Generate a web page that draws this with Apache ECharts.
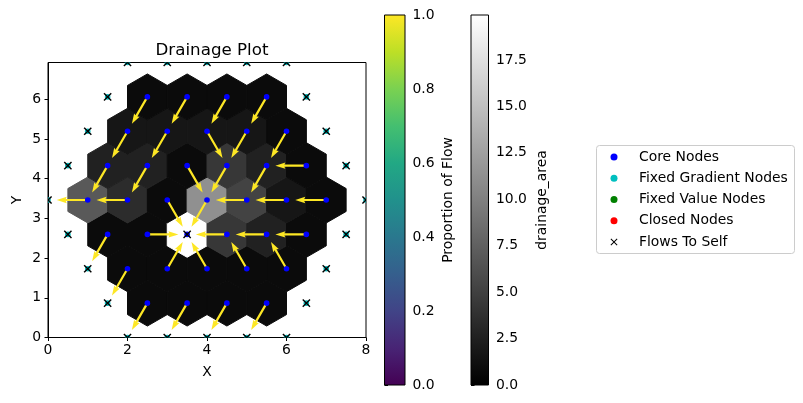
<!DOCTYPE html>
<html>
<head>
<meta charset="utf-8">
<script src="https://cdn.jsdelivr.net/npm/echarts@6/dist/echarts.min.js"></script>
<style>
html,body{margin:0;padding:0;background:#fff;}
#main{width:803px;height:403px;}
</style>
</head>
<body>
<div id="main"></div>
<script>
// ---- data ----
const coreX = [2.5,3.5,4.5,5.5, 2,3,4,5,6, 1.5,2.5,3.5,4.5,5.5,6.5, 1,2,3,4,5,6,7, 1.5,2.5,3.5,4.5,5.5,6.5, 2,3,4,5,6, 2.5,3.5,4.5,5.5];
const coreY = [0.866,0.866,0.866,0.866, 1.732,1.732,1.732,1.732,1.732, 2.598,2.598,2.598,2.598,2.598,2.598, 3.464,3.464,3.464,3.464,3.464,3.464,3.464, 4.330,4.330,4.330,4.330,4.330,4.330, 5.196,5.196,5.196,5.196,5.196, 6.062,6.062,6.062,6.062];
const recvX = [2,3,4,5, 1.5,3.5,3.5,4.5,5.5, 1,3.5,3.5,3.5,4.5,5.5, 0,1,3.5,3.5,4,5,6, 1,2,4,4,5,5.5, 1.5,2.5,4.5,4.5,5.5, 2,3,4,5];
const recvY = [0,0,0,0, 0.866,2.598,2.598,2.598,2.598, 1.732,2.598,2.598,2.598,2.598,2.598, 3.464,3.464,2.598,2.598,3.464,3.464,3.464, 3.464,3.464,3.464,3.464,3.464,4.330, 4.330,4.330,4.330,4.330,4.330, 5.196,5.196,5.196,5.196];
const drainageArea = [0.866,0.866,0.866,0.866, 0.866,0.866,0.866,0.866,0.866, 0.866,0.866,19.92,4.33,2.598,0.866, 6.928,3.464,0.866,11.258,5.196,1.732,0.866, 2.598,2.598,0.866,4.33,2.598,0.866, 1.732,1.732,1.732,1.732,0.866, 0.866,0.866,0.866,0.866];
const flowProportion = coreX.map(() => 1.0);
const boundaryX = [2,3,4,5,6, 1.5,6.5, 1,7, 0.5,7.5, 0,8, 0.5,7.5, 1,7, 1.5,6.5, 2,3,4,5,6];
const boundaryY = [0,0,0,0,0, 0.866,0.866, 1.732,1.732, 2.598,2.598, 3.464,3.464, 4.330,4.330, 5.196,5.196, 6.062,6.062, 6.928,6.928,6.928,6.928,6.928];
const xTicks = [0,2,4,6,8];
const yTicks = [0,1,2,3,4,5,6];
const flowTicks = [0,0.2,0.4,0.6,0.8,1.0];
const areaTicks = [0,2.5,5,7.5,10,12.5,15,17.5];
const areaMax = 19.92;
const legendNames = ['Core Nodes','Fixed Gradient Nodes','Fixed Value Nodes','Closed Nodes','Flows To Self'];

// ---- styles ----
const FONT = 'DejaVu Sans';
const viridis = ['#440154','#482475','#414487','#355f8d','#2a788e','#21918c','#22a884','#44bf70','#7ad151','#bddf26','#fde725'];
const X_PATH = 'path://M1,0L5,4L9,0L10,1L6,5L10,9L9,10L5,6L1,10L0,9L4,5L0,1Z';

const hexData = coreX.map((x,i) => [x, coreY[i], drainageArea[i]]);
const arrowData = coreX.map((x,i) => [x, coreY[i], recvX[i], recvY[i], flowProportion[i]])
  .filter(d => !(d[0] === d[2] && d[1] === d[3]));
const coreData = coreX.map((x,i) => [x, coreY[i]]);
const boundaryData = boundaryX.map((x,i) => [x, boundaryY[i]]);
const selfData = boundaryData.concat(coreX.map((x,i) => [x, coreY[i], recvX[i], recvY[i]])
  .filter(d => d[0] === d[2] && d[1] === d[3]).map(d => [d[0], d[1]]));

const chart = echarts.init(document.getElementById('main'), null, {renderer:'canvas', width:803, height:403});

function hexRender(params, api) {
  const x = api.value(0), y = api.value(1);
  const r = 1/Math.sqrt(3);
  const pts = [];
  for (let k = 0; k < 6; k++) {
    const a = (30 + 60*k) * Math.PI/180;
    pts.push(api.coord([x + r*Math.cos(a), y + r*Math.sin(a)]));
  }
  const c = api.visual('color');
  return {type:'polygon', shape:{points:pts}, style:{fill:c, stroke:c, lineWidth:1}};
}

function arrowRender(params, api) {
  const p0 = api.coord([api.value(0), api.value(1)]);
  const p1 = api.coord([api.value(2), api.value(3)]);
  const f = 0.78;
  const tip = [p0[0] + f*(p1[0]-p0[0]), p0[1] + f*(p1[1]-p0[1])];
  const dx = tip[0]-p0[0], dy = tip[1]-p0[1];
  const L = Math.sqrt(dx*dx+dy*dy);
  const u = [dx/L, dy/L], n = [-u[1], u[0]];
  const w = 1.1, hw = 3.2, hl = 10, ha = 9;
  const P = (b, along, side) => [b[0] + u[0]*along + n[0]*side, b[1] + u[1]*along + n[1]*side];
  const pts = [P(p0,0,w), P(tip,-ha,w), P(tip,-hl,hw), tip, P(tip,-hl,-hw), P(tip,-ha,-w), P(p0,0,-w)];
  return {type:'polygon', shape:{points:pts}, style:{fill:api.visual('color')}};
}

function dotRender(color) {
  return function(params, api) {
    const p = api.coord([api.value(0), api.value(1)]);
    return {type:'circle', shape:{cx:p[0], cy:p[1], r:2.8}, style:{fill:color}};
  };
}

function xRender(params, api) {
  const p = api.coord([api.value(0), api.value(1)]);
  const s = 3.6;
  return {type:'group', children:[
    {type:'line', shape:{x1:p[0]-s, y1:p[1]-s, x2:p[0]+s, y2:p[1]+s}, style:{stroke:'#000', lineWidth:1.4}},
    {type:'line', shape:{x1:p[0]-s, y1:p[1]+s, x2:p[0]+s, y2:p[1]-s}, style:{stroke:'#000', lineWidth:1.4}}
  ]};
}

function barRender(stops) {
  return function(params, api) {
    const a = api.coord([api.value(0), api.value(1)]);
    const b = api.coord([api.value(2), api.value(3)]);
    return {type:'rect', shape:{x:a[0], y:b[1], width:b[0]-a[0], height:a[1]-b[1]},
      style:{fill:new echarts.graphic.LinearGradient(0,1,0,0, stops)}};
  };
}

const viridisStops = viridis.map((c,i) => ({offset:i/(viridis.length-1), color:c}));
const grayStops = [{offset:0,color:'#000000'},{offset:1,color:'#ffffff'}];

const labelStyle = {color:'#000', fontFamily:FONT, fontSize:13.9};
const tickStyle = {show:true, inside:false, length:3.5, lineStyle:{color:'#000', width:1}};

chart.setOption({
  animation:false,
  backgroundColor:'#fff',
  textStyle:{fontFamily:FONT},
  title:{text:'Drainage Plot', left:207, top:36, textAlign:'center',
    textStyle:{fontFamily:FONT, fontSize:16.7, fontWeight:'normal', color:'#000', lineHeight:20}},
  graphic:[
    {type:'rect', left:596, top:145, z:-1, silent:true,
      shape:{x:0, y:0, width:198, height:108, r:3},
      style:{fill:'#ffffff', stroke:'#cccccc', lineWidth:1}}
  ],
  grid:[
    {left:48, top:62.5, width:318, height:275, show:true, borderColor:'#000', borderWidth:1, backgroundColor:'transparent'},
    {left:384.5, top:15, width:20.5, height:370, show:true, borderColor:'#000', borderWidth:1, backgroundColor:'transparent', z:5},
    {left:471, top:15, width:17.5, height:370, show:true, borderColor:'#000', borderWidth:1, backgroundColor:'transparent', z:5}
  ],
  xAxis:[
    {gridIndex:0, type:'value', min:0, max:8, interval:2, name:'X', nameLocation:'middle', nameGap:28,
      nameTextStyle:labelStyle, axisLine:{show:true, onZero:false, lineStyle:{color:'#000'}},
      axisTick:Object.assign({customValues:xTicks}, tickStyle),
      axisLabel:Object.assign({margin:6, customValues:xTicks, formatter:v => String(v)}, labelStyle),
      splitLine:{show:false}},
    {gridIndex:1, type:'value', min:0, max:1, show:false},
    {gridIndex:2, type:'value', min:0, max:1, show:false}
  ],
  yAxis:[
    {gridIndex:0, type:'value', min:0, max:6.928, name:'Y', nameLocation:'middle', nameGap:24, nameRotate:90,
      nameTextStyle:labelStyle, axisLine:{show:true, onZero:false, lineStyle:{color:'#000'}},
      axisTick:Object.assign({customValues:yTicks}, tickStyle),
      axisLabel:Object.assign({margin:7, customValues:yTicks, formatter:v => String(v)}, labelStyle),
      splitLine:{show:false}},
    {gridIndex:1, type:'value', min:0, max:1, position:'right', name:'Proportion of Flow', nameLocation:'middle',
      nameGap:36, nameRotate:90, nameTextStyle:labelStyle,
      axisLine:{show:false},
      axisTick:Object.assign({customValues:flowTicks}, tickStyle),
      axisLabel:Object.assign({margin:7.5, customValues:flowTicks, formatter:v => v.toFixed(1)}, labelStyle),
      splitLine:{show:false}},
    {gridIndex:2, type:'value', min:0, max:areaMax, position:'right', name:'drainage_area', nameLocation:'middle',
      nameGap:47, nameRotate:90, nameTextStyle:labelStyle,
      axisLine:{show:false},
      axisTick:Object.assign({customValues:areaTicks}, tickStyle),
      axisLabel:Object.assign({margin:7.5, customValues:areaTicks, formatter:v => v.toFixed(1)}, labelStyle),
      splitLine:{show:false}}
  ],
  visualMap:[
    {type:'continuous', show:false, seriesIndex:0, dimension:2, min:0, max:areaMax, inRange:{color:['#000000','#ffffff']}},
    {type:'continuous', show:false, seriesIndex:1, dimension:4, min:0, max:1, inRange:{color:viridis}}
  ],
  legend:{
    orient:'vertical', left:596, top:145, padding:[4,7,4,14.5], itemGap:5.25, itemWidth:20, itemHeight:7,
    backgroundColor:'transparent', borderWidth:0, z:10,
    textStyle:{color:'#000', fontFamily:FONT, fontSize:13.9, lineHeight:16, padding:[0,0,0,10]},
    data:[
      {name:legendNames[0], icon:'circle'},
      {name:legendNames[1], icon:'circle'},
      {name:legendNames[2], icon:'circle'},
      {name:legendNames[3], icon:'circle'},
      {name:legendNames[4], icon:X_PATH}
    ]
  },
  series:[
    {type:'custom', name:'drainage_area', xAxisIndex:0, yAxisIndex:0, renderItem:hexRender, data:hexData, z:1, silent:true},
    {type:'custom', name:'flow', xAxisIndex:0, yAxisIndex:0, renderItem:arrowRender, data:arrowData, z:2, silent:true},
    {type:'custom', name:legendNames[0], xAxisIndex:0, yAxisIndex:0, renderItem:dotRender('#0000ff'), itemStyle:{color:'#0000ff'}, data:coreData, z:3, clip:true},
    {type:'custom', name:legendNames[1], xAxisIndex:0, yAxisIndex:0, renderItem:dotRender('#00bfbf'), itemStyle:{color:'#00bfbf'}, data:boundaryData, z:3, clip:true},
    {type:'custom', name:legendNames[2], xAxisIndex:0, yAxisIndex:0, renderItem:dotRender('#008000'), itemStyle:{color:'#008000'}, data:[], z:3, clip:true},
    {type:'custom', name:legendNames[3], xAxisIndex:0, yAxisIndex:0, renderItem:dotRender('#ff0000'), itemStyle:{color:'#ff0000'}, data:[], z:3, clip:true},
    {type:'custom', name:legendNames[4], xAxisIndex:0, yAxisIndex:0, renderItem:xRender, itemStyle:{color:'#000000'}, data:selfData, z:4, clip:true},
    {type:'custom', name:'viridisBar', xAxisIndex:1, yAxisIndex:1, renderItem:barRender(viridisStops), data:[[0,0,1,1]], silent:true},
    {type:'custom', name:'grayBar', xAxisIndex:2, yAxisIndex:2, renderItem:barRender(grayStops), data:[[0,0,1,areaMax]], silent:true}
  ]
});
</script>
</body>
</html>
